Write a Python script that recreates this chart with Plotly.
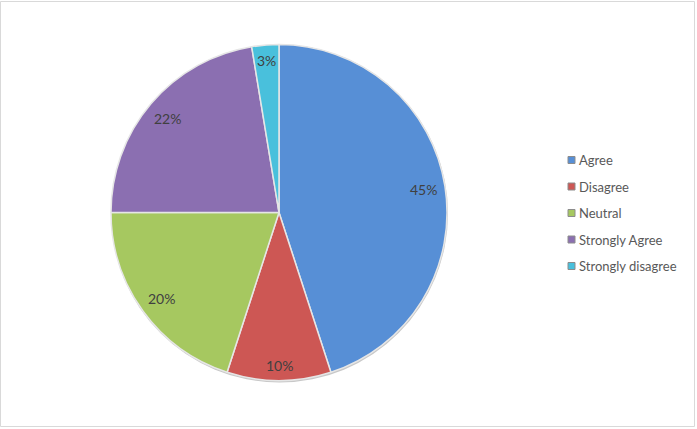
import math
import plotly.graph_objects as go

labels = ["Agree", "Disagree", "Neutral", "Strongly Agree", "Strongly disagree"]
values = [45, 10, 20, 22.4, 2.6]
colors = ["#578fd6", "#cd5754", "#a6c860", "#8b6fb1", "#49c0dc"]

W, H = 697, 429
cx, cy, R = 279, 212.5, 168

fig = go.Figure()
fig.add_trace(go.Pie(
    labels=labels, values=values, sort=False, direction="clockwise", rotation=0,
    marker=dict(colors=colors, line=dict(color="#e6e6e6", width=1.5)),
    textinfo="none", hoverinfo="label+percent", showlegend=False,
    domain=dict(x=[(cx - R) / W, (cx + R) / W], y=[1 - (cy + R) / H, 1 - (cy - R) / H]),
))

annotations = []
shapes = []
total = sum(values)
cum = 0.0
pad = 7
for lab, v in zip(labels, values):
    theta = 2 * math.pi * (cum + v / 2) / total
    cum += v
    ux, uy = math.sin(theta), math.cos(theta)
    txt = f"{round(100 * v / total)}%"
    hw = (len(txt) - 1) * 4.1 + 5.5
    hh = 7
    a, b = abs(ux), abs(uy)
    k = a * hw + b * hh
    Rp = R - pad
    d = -k + math.sqrt(k * k - (hw * hw + hh * hh - Rp * Rp))
    sx = cx + d * ux
    sy = cy - d * uy
    annotations.append(dict(x=sx / W, y=1 - sy / H, xref="paper", yref="paper", text=txt,
                            showarrow=False, font=dict(family="Lato", size=14, color="#404040"),
                            xanchor="center", yanchor="middle"))

# custom legend
ly0, lstep = 160, 26.5
for i, (lab, col) in enumerate(zip(labels, colors)):
    y = ly0 + i * lstep
    shapes.append(dict(type="rect", xref="paper", yref="paper",
                       x0=568 / W, x1=575 / W, y0=1 - (y + 3.5) / H, y1=1 - (y - 3.5) / H,
                       fillcolor=col, line=dict(color="#8c8c8c", width=1)))
    annotations.append(dict(x=577 / W, y=1 - y / H, xref="paper", yref="paper", text=lab,
                            showarrow=False, font=dict(family="Lato", size=13, color="#595959"),
                            xanchor="left", yanchor="middle"))

# chart border
shapes.append(dict(type="rect", xref="paper", yref="paper",
                   x0=0.5 / W, x1=694.5 / W, y0=1 - 426.5 / H, y1=1 - 1.5 / H,
                   line=dict(color="#d9d9d9", width=1), fillcolor="rgba(0,0,0,0)"))
# soft shadow under pie
shapes.append(dict(type="circle", xref="paper", yref="paper", layer="below",
                   x0=(cx - R) / W, x1=(cx + R + 1) / W, y0=1 - (cy + R + 2) / H, y1=1 - (cy - R) / H,
                   fillcolor="#c8c8c8", line=dict(width=0)))

fig.update_layout(width=W, height=H, margin=dict(l=0, r=0, t=0, b=0),
                  paper_bgcolor="white", plot_bgcolor="white",
                  annotations=annotations, shapes=shapes)
fig.write_html("out.html", config={"displayModeBar": False},
               post_script="document.body.style.margin='0';document.body.style.overflow='hidden';")
